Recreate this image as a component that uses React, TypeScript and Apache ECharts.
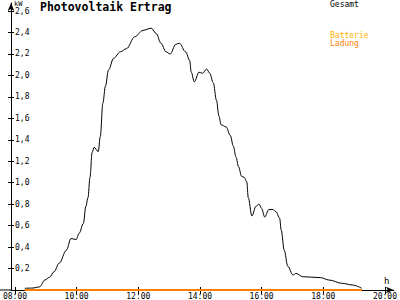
import React, { useEffect, useRef } from "react";
import * as echarts from "echarts";

const times = [
  "08:19", "08:35", "08:48", "08:58", "09:07", "09:16", "09:26", "09:40", "09:49", "09:59",
  "10:05", "10:13", "10:18", "10:22", "10:26", "10:30", "10:34", "10:42", "10:46", "10:51",
  "10:56", "11:02", "11:12", "11:25", "11:37", "11:53", "12:09", "12:25", "12:35", "12:44",
  "12:54", "13:02", "13:13", "13:20", "13:32", "13:40", "13:43", "13:49", "13:58", "14:05",
  "14:13", "14:19", "14:26", "14:32", "14:37", "14:41", "14:51", "14:59", "15:05", "15:10",
  "15:15", "15:21", "15:26", "15:31", "15:34", "15:41", "15:49", "15:55", "16:00", "16:06",
  "16:14", "16:22", "16:28", "16:35", "16:38", "16:44", "16:51", "17:01", "17:07", "17:20",
  "17:55", "18:11", "18:37", "18:56", "19:15",
];
const gesamt = [
  0.016, 0.018, 0.03, 0.093, 0.118, 0.17, 0.25, 0.37, 0.48, 0.47,
  0.53, 0.62, 0.78, 0.86, 1.05, 1.28, 1.33, 1.29, 1.43, 1.74,
  1.9, 2.05, 2.16, 2.22, 2.25, 2.36, 2.42, 2.44, 2.39, 2.3,
  2.22, 2.2, 2.29, 2.3, 2.22, 2.14, 2.03, 1.94, 2.03, 2.02,
  2.06, 2.02, 1.93, 1.77, 1.62, 1.54, 1.52, 1.44, 1.34, 1.24,
  1.15, 1.06, 1.05, 1.01, 0.86, 0.69, 0.78, 0.8, 0.76, 0.68,
  0.75, 0.75, 0.73, 0.67, 0.56, 0.37, 0.22, 0.14, 0.155, 0.124,
  0.115, 0.093, 0.062, 0.047, 0.016,
];
const batterieTimes = ["08:19", "19:15"];
const batterieLadung = [0, 0];

const xTicks = [8, 10, 12, 14, 16, 18, 20];
const yTicks = [0.2, 0.4, 0.6, 0.8, 1.0, 1.2, 1.4, 1.6, 1.8, 2.0, 2.2, 2.4, 2.6];

const toHours = (t: string) => {
  const [h, m] = t.split(":").map(Number);
  return h + m / 60;
};

const MONO = "DejaVu Sans Mono";

export default function App() {
  const ref = useRef<HTMLDivElement>(null);
  useEffect(() => {
    if (!ref.current) return;
    const chart = echarts.init(ref.current, null, { renderer: "svg" });
    const xCommon = {
      type: "value" as const,
      min: 7.872,
      max: 20.288,
      splitLine: { show: false },
    };
    const yCommon = {
      type: "value" as const,
      min: 0,
      max: 2.675,
      splitLine: { show: false },
    };
    chart.setOption({
      animation: false,
      backgroundColor: "#ffffff",
      grid: { left: 11, right: 1, top: 3, bottom: 10 },
      xAxis: [
        {
          ...xCommon,
          axisLine: {
            show: true,
            lineStyle: { color: "#000", width: 1 },
            symbol: ["none", "arrow"],
            symbolSize: [5, 8],
          },
          axisTick: {
            show: true,
            customValues: xTicks,
            length: 4,
            lineStyle: { color: "#000" },
          },
          axisLabel: {
            customValues: xTicks,
            formatter: (v: number) => String(Math.round(v)).padStart(2, "0") + ":00",
            fontFamily: MONO,
            fontSize: 8,
            color: "#000",
            margin: 2,
          },
        },
        {
          ...xCommon,
          position: "bottom",
          axisLine: { show: false },
          axisTick: {
            show: true,
            inside: true,
            customValues: xTicks,
            length: 3,
            lineStyle: { color: "#000" },
          },
          axisLabel: { show: false },
        },
      ],
      yAxis: [
        {
          ...yCommon,
          axisLine: {
            show: true,
            lineStyle: { color: "#000", width: 1 },
            symbol: ["none", "arrow"],
            symbolSize: [5, 8],
          },
          axisTick: {
            show: true,
            customValues: yTicks,
            length: 3,
            lineStyle: { color: "#000" },
          },
          axisLabel: {
            inside: true,
            customValues: yTicks,
            formatter: (v: number) => v.toFixed(1).replace(".", ","),
            fontFamily: MONO,
            fontSize: 8,
            color: "#000",
            margin: 4,
          },
        },
        {
          ...yCommon,
          position: "left",
          axisLine: { show: false },
          axisTick: {
            show: true,
            inside: true,
            customValues: yTicks,
            length: 3,
            lineStyle: { color: "#000" },
          },
          axisLabel: { show: false },
        },
      ],
      series: [
        {
          name: "Batterie Ladung",
          type: "line",
          data: batterieTimes.map((t, i) => [toHours(t), batterieLadung[i]]),
          showSymbol: false,
          lineStyle: { color: "#ff8000", width: 2 },
          z: 3,
        },
        {
          name: "Gesamt",
          type: "line",
          data: times.map((t, i) => [toHours(t), gesamt[i]]),
          showSymbol: false,
          smooth: 0.35,
          smoothMonotone: "x",
          lineStyle: { color: "#000", width: 1 },
          z: 4,
        },
      ],
      graphic: [
        {
          type: "line",
          shape: { x1: 0, y1: 290, x2: 11, y2: 290 },
          style: { stroke: "#000", lineWidth: 1 },
        },
        {
          type: "text",
          left: 40,
          top: 1,
          style: {
            text: "Photovoltaik Ertrag",
            font: `bold 11.5px "${MONO}"`,
            fill: "#000",
          },
        },
        {
          type: "text",
          left: 14,
          top: 0,
          style: { text: "kW", font: `7px "${MONO}"`, fill: "#000" },
        },
        {
          type: "text",
          left: 384,
          top: 276,
          style: { text: "h", font: `9px "${MONO}"`, fill: "#000" },
        },
        {
          type: "text",
          left: 330,
          top: 0,
          style: { text: "Gesamt", font: `8px "${MONO}"`, fill: "#000" },
        },
        {
          type: "text",
          left: 330,
          top: 31,
          style: { text: "Batterie", font: `8px "${MONO}"`, fill: "#ffb000" },
        },
        {
          type: "text",
          left: 330,
          top: 39,
          style: { text: "Ladung", font: `8px "${MONO}"`, fill: "#ff8000" },
        },
      ],
    });
    return () => chart.dispose();
  }, []);
  return (
    <div
      ref={ref}
      style={{ position: "fixed", left: 0, top: 0, width: 400, height: 300 }}
    />
  );
}
